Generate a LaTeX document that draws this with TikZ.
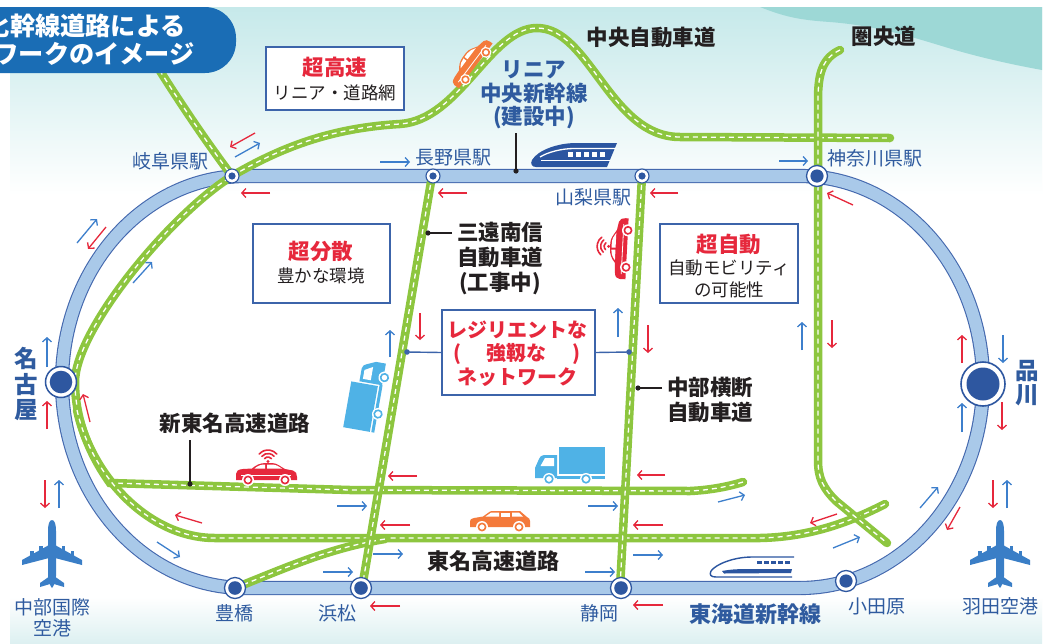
\documentclass[tikz,border=0pt]{standalone}
\usepackage{fontspec}
\setmainfont{Noto Sans CJK JP}
\usetikzlibrary{arrows.meta}

\definecolor{roadgreen}{HTML}{8DC63F}
\definecolor{railfill}{HTML}{A9C9E9}
\definecolor{railedge}{HTML}{4468AE}
\definecolor{stnblue}{HTML}{2E57A0}
\definecolor{lblblue}{HTML}{2F5B9F}
\definecolor{arrblue}{HTML}{3D7FCC}
\definecolor{arrred}{HTML}{E6283C}
\definecolor{inkdark}{HTML}{231F20}
\definecolor{titleblue}{HTML}{1A6DB5}
\definecolor{tealtop}{HTML}{C6E9EA}
\definecolor{tealwave}{HTML}{9DD8D6}
\definecolor{tealbottom}{HTML}{DDF0F1}
\definecolor{boxedge}{HTML}{3C64AA}
\definecolor{truckblue}{HTML}{4FB2E6}
\definecolor{planeblue}{HTML}{3A7EC6}
\definecolor{carorange}{HTML}{F47A3B}
\definecolor{trainblue}{HTML}{2B55A0}

% body of a side view sedan, nose to the right
\newcommand{\sedanshape}{%
  \fill (-30,6) -- (-30,0) .. controls (-30,-3) and (-28,-4.5) .. (-23,-5) -- (-14,-5.5)
    .. controls (-10,-9) and (-6,-11) .. (0,-11) -- (6,-11) .. controls (11,-11) and (15,-7) .. (19,-5)
    -- (27,-3.5) .. controls (30,-3) and (31,0) .. (31,3) -- (31,6) -- cycle;
  \fill[white] (-11.5,-5.5) .. controls (-8,-8.5) and (-5,-9.5) .. (-1,-9.5) -- (-1,-5.5) -- cycle;
  \fill[white] (1,-5.5) -- (1,-9.5) -- (6,-9.5) .. controls (10,-9.5) and (13,-7.5) .. (16,-5.5) -- cycle;
  \draw[white, line width=0.8pt] (-25,1.5) -- (25,1.5);
  \foreach \wx in {-18,19} {\fill[white] (\wx,6) circle (6); \draw[line width=1.6pt] (\wx,6) circle (3.6);}%
}

\tikzset{
  road/.style={draw=white, line width=1.3pt, dash pattern=on 5pt off 4pt,
    preaction={draw=roadgreen, solid, line width=8.5pt, line cap=round}},
  railband/.style={draw=railedge, line width=1.1pt, double=railfill, double distance=12pt},
  flow/.style={line width=1.3pt, -{Straight Barb[length=4pt,width=9pt]}},
  bflow/.style={flow, draw=arrblue},
  rflow/.style={flow, draw=arrred},
  stnS/.style={circle, draw=stnblue, fill=white, inner sep=0pt, line width=1.1pt, minimum size=14pt},
  stnM/.style={circle, draw=stnblue, fill=white, inner sep=0pt, line width=1.3pt, minimum size=21pt},
  stnL/.style={circle, draw=stnblue, fill=white, inner sep=0pt, line width=1.5pt, minimum size=31pt},
  stnXL/.style={circle, draw=stnblue, fill=white, inner sep=0pt, line width=1.6pt, minimum size=44pt},
  stnlbl/.style={font=\fontsize{19}{22}\selectfont, text=lblblue, inner sep=0pt},
  roadlbl/.style={font=\fontsize{21.5}{25}\selectfont\bfseries, text=inkdark, inner sep=0pt, align=center},
  keyword/.style={font=\fontsize{21.5}{25}\selectfont\bfseries, text=arrred, inner sep=0pt},
  boxnote/.style={font=\fontsize{17.5}{21}\selectfont, text=inkdark, inner sep=0pt},
  infobox/.style={draw=boxedge, line width=1.3pt, fill=white, inner sep=0pt},
  leader/.style={draw=inkdark, line width=1.2pt},
  bleader/.style={draw=boxedge, line width=1.4pt},
  titletxt/.style={font=\fontsize{25.2}{28}\selectfont\bfseries, text=white, inner sep=0pt},
  sedan/.pic={\sedanshape},
  signalcar/.pic={
    \sedanshape
    \fill (2,-12.5) circle (1.6);
    \foreach \r in {4.5,8,11.5}
      \draw[line width=1.6pt, line cap=round] (2,-12.5) ++(220:\r) arc[start angle=220, end angle=320, radius=\r];
  },
  % side view SUV, nose to the left
  suv/.pic={
    \fill (-30,5) -- (-30,-0.5) .. controls (-30,-2.5) and (-29,-3.5) .. (-26,-4) -- (-17,-5.5) -- (-10,-10.5)
      .. controls (-9,-11) .. (-8,-11) -- (20,-11) -- (27,-5) .. controls (29,-4) and (30,-3) .. (30,-1) -- (30,5) -- cycle;
    \fill[white] (-14.5,-5.5) -- (-9,-9.3) -- (-1,-9.3) -- (-1,-5.5) -- cycle;
    \fill[white] (1,-5.5) -- (1,-9.3) -- (10,-9.3) -- (10,-5.5) -- cycle;
    \fill[white] (12,-5.5) -- (12,-9.3) -- (19,-9.3) -- (23,-5.5) -- cycle;
    \foreach \wx in {-18,19} {\fill[white] (\wx,5) circle (6); \draw[line width=1.6pt] (\wx,5) circle (3.6);}
  },
  % side view lorry, cab to the left
  truck/.pic={
    \fill (-11.5,-19) rectangle (35,8);
    \fill (-13,-11) -- (-26,-11) .. controls (-29,-11) and (-30,-9) .. (-31,-7) -- (-35,2) -- (-35,12) -- (-13,12) -- cycle;
    \fill[white] (-16,-8) -- (-25,-8) -- (-29.5,0) -- (-16,0) -- cycle;
    \fill (-13,9.5) rectangle (35,12.5);
    \foreach \wx in {-21,16} {\fill[white] (\wx,13) circle (6); \draw[line width=1.6pt] (\wx,13) circle (3.8);}
  },
  % airliner seen from above, nose up
  plane/.pic={
    \fill (0,-34) .. controls (2.8,-34) and (4,-29) .. (4,-23) -- (4,22) .. controls (4,28) and (1.5,32) .. (0,34)
      .. controls (-1.5,32) and (-4,28) .. (-4,22) -- (-4,-23) .. controls (-4,-29) and (-2.8,-34) .. (0,-34) -- cycle;
    \foreach \s in {1,-1} {
      \begin{scope}[xscale=\s]
        \fill (3,-9) -- (30,6) -- (30,11) -- (3,4) -- cycle;
        \fill (9.5,-8) rectangle (13,-1);
        \fill (18.5,-3.5) rectangle (22,3);
        \fill (2,22) -- (12,29) -- (12,33) -- (2,30) -- cycle;
      \end{scope}
    }
  },
  % maglev train, solid
  trainA/.pic={
    \fill (43,-12) -- (2,-12) .. controls (-16,-12) and (-36,-5) .. (-42,5) .. controls (-44,9) and (-42,12) .. (-38,12) -- (33,12) -- cycle;
    \draw[white, line width=1.3pt] (42,-6.5) -- (0,-6.5) .. controls (-12,-6.5) and (-26,-3) .. (-34,2);
    \draw[white, line width=1.3pt] (36,5.5) -- (-33,5.5);
    \foreach \i in {0,...,4} \fill[white] (-6+8*\i,-3) rectangle ++(5,5);
  },
  % bullet train, line style
  trainB/.pic={
    \draw[line width=1.4pt, line join=round] (42,-10) -- (0,-10) .. controls (-18,-10) and (-36,-3) .. (-41,4)
      .. controls (-43,8) and (-41,10) .. (-36,10) -- (40,10);
    \fill (-30,4) .. controls (-20,2) and (-10,2) .. (0,2) -- (40,2) -- (39,6) -- (-28,6.5) -- cycle;
    \foreach \i in {0,...,4} \fill (5+7*\i,-6.5) rectangle ++(4.5,3.5);
  },
}

\begin{document}
\begin{tikzpicture}[x=1pt,y=-1pt]
\useasboundingbox (0,0) rectangle (1046,643);

% backdrop
\fill[white] (0,0) rectangle (1046,643);
\shade[top color=tealtop, bottom color=white] (10,7) rectangle (1042,195);
\fill[tealwave] (760,7) .. controls (785,17) and (800,20) .. (830,22) .. controls (880,26) and (915,38) .. (955,50)
  .. controls (990,60) and (1020,66) .. (1042,70) -- (1042,7) -- cycle;
\shade[top color=white, bottom color=tealbottom] (10,597) rectangle (1042,643);

% rail loop: Linear Chuo on top, Tokaido Shinkansen below
\draw[railband] (245,176) -- (800,176) arc[start angle=-90, end angle=90, x radius=183, y radius=206]
  -- (245,588) arc[start angle=90, end angle=270, x radius=183, y radius=206] -- cycle;

% expressways
\draw[road] (150,55) .. controls (178,100) and (205,140) .. (232,176);
\draw[road] (743,482) .. controls (730,486) and (712,490) .. (690,491) -- (350,490) -- (110,483)
  .. controls (90,455) and (75,420) .. (75,382) .. controls (75,330) and (170,215) .. (232,176)
  .. controls (280,148) and (330,128) .. (400,124) .. controls (460,120) and (490,28) .. (537,28)
  .. controls (590,28) and (610,137) .. (680,137) -- (890,138);
\draw[road] (77,410) .. controls (92,478) and (150,538) .. (215,538) -- (760,538)
  .. controls (810,537) and (850,522) .. (885,504);
\draw[road] (235,588) .. controls (290,566) and (330,548) .. (385,539);
\draw[road] (432,176) -- (362,588);
\draw[road] (642,176) -- (620,588);
\draw[road] (840,50) .. controls (823,58) and (818,72) .. (818,100) -- (818,460)
  .. controls (818,478) and (823,488) .. (836,501) -- (887,543);

% heading
\fill[titleblue, rounded corners=31pt] (-40,7) rectangle (236,73);
\begin{scope}
  \clip (0,0) rectangle (236,73);
  \node[titletxt, anchor=east] (titleA) at (186,26) {化幹線道路による};
  \node[titletxt, anchor=east] (titleB) at (195,54) {ネットワークのイメージ};
\end{scope}

% concept boxes
\node[infobox, minimum width=138pt, minimum height=63pt] (boxSpeed) at (335,78.5) {};
\node[keyword] (kwSpeed) at (335,67.5) {超高速};
\node[boxnote] (noteSpeed) at (335,92.5) {リニア・道路網};

\node[infobox, minimum width=137pt, minimum height=79pt] (boxSpread) at (321.5,263.5) {};
\node[keyword] (kwSpread) at (321,251) {超分散};
\node[boxnote] (noteSpread) at (321,276) {豊かな環境};

\node[infobox, minimum width=138pt, minimum height=79pt] (boxAuto) at (729,263.5) {};
\node[keyword] (kwAuto) at (729,244) {超自動};
\node[boxnote] (noteAutoA) at (729,267.5) {自動モビリティ};
\node[boxnote] (noteAutoB) at (729,289.5) {の可能性};

\node[infobox, minimum width=153pt, minimum height=85pt] (boxResil) at (518.5,352.5) {};
\node[font=\fontsize{20}{23.5}\selectfont\bfseries, text=arrred, inner sep=0pt, align=center] (kwResil) at (517,353.5)
  {レジリエントな\\(\hspace{1.3em}強靱な\hspace{1.3em})\\ネットワーク};
\coordinate (resilL) at (407,352);
\coordinate (resilR) at (629,352);
\draw[bleader] (boxResil.west) -- (resilL);
\draw[bleader] (boxResil.east) -- (resilR);
\fill[boxedge] (resilL) circle (2.8);
\fill[boxedge] (resilR) circle (2.8);

% stations
\node[stnS] (gifu) at (232,176) {};
\node[stnS] (nagano) at (433,176) {};
\node[stnS] (yamanashi) at (642,176) {};
\node[stnM] (kanagawa) at (817,176) {};
\node[stnL] (nagoya) at (61,382) {};
\node[stnXL] (shinagawa) at (983,384) {};
\node[stnM] (toyohashi) at (235,588) {};
\node[stnM] (hamamatsu) at (361,588) {};
\node[stnM] (shizuoka) at (621,588) {};
\node[stnM] (odawara) at (846,581) {};
\foreach \n/\r in {gifu/3.6, nagano/3.6, yamanashi/3.6, kanagawa/6.6, nagoya/11.3, shinagawa/16.5,
                   toyohashi/6.8, hamamatsu/6.8, shizuoka/6.8, odawara/6.6}
  \fill[stnblue] (\n) circle (\r);

% station names
\node[stnlbl] (gifuLbl) at (170,161) {岐阜県駅};
\node[stnlbl] (naganoLbl) at (453,158) {長野県駅};
\node[stnlbl] (yamanashiLbl) at (593,197) {山梨県駅};
\node[stnlbl] (kanagawaLbl) at (875,158) {神奈川県駅};
\node[stnlbl] (toyohashiLbl) at (234,613) {豊橋};
\node[stnlbl] (hamamatsuLbl) at (337,613) {浜松};
\node[stnlbl] (shizuokaLbl) at (599,613) {静岡};
\node[stnlbl] (odawaraLbl) at (877,606) {小田原};
\node[stnlbl] (hanedaLbl) at (1000,606) {羽田空港};
\node[stnlbl, align=center, font=\fontsize{19}{21}\selectfont] (chubuLbl) at (52,618) {中部国際\\空港};
\node[font=\fontsize{23.5}{25.5}\selectfont\bfseries, text=lblblue, inner sep=0pt, align=center] (nagoyaLbl) at (26,384) {名\\古\\屋};
\node[font=\fontsize{23.5}{24}\selectfont\bfseries, text=lblblue, inner sep=0pt, align=center] (shinagawaLbl) at (1027,383) {品\\川};
\node[font=\fontsize{22}{25}\selectfont\bfseries, text=lblblue, inner sep=0pt] (tokaidoLbl) at (755,614) {東海道新幹線};

% line and road names
\node[font=\fontsize{21.5}{23.3}\selectfont\bfseries, text=lblblue, inner sep=0pt, align=center] (linearLbl) at (534,95)
  {リニア\\中央新幹線\\(建設中)};
\coordinate (linTop) at (516,133);
\coordinate (linFoot) at (516,171);
\draw[leader] (linTop) -- (linFoot);
\fill[inkdark] (linFoot) circle (2.6);

\node[roadlbl] (chuoLbl) at (651,37) {中央自動車道};
\node[roadlbl] (kenoLbl) at (884,36) {圏央道};

\node[roadlbl] (sanenLbl) at (500,259) {三遠南信\\自動車道\\(工事中)};
\coordinate (sanenTail) at (452,233);
\coordinate (sanenDot) at (428,233);
\draw[leader] (sanenTail) -- (sanenDot);
\fill[inkdark] (sanenDot) circle (2.6);

\node[roadlbl] (chubuRdLbl) at (710,400) {中部横断\\自動車道};
\coordinate (chubuTail) at (662,388);
\coordinate (chubuDot) at (638,388);
\draw[leader] (chubuTail) -- (chubuDot);
\fill[inkdark] (chubuDot) circle (2.6);

\node[roadlbl] (shintomeiLbl) at (235,423) {新東名高速道路};
\coordinate (stmTail) at (190,440);
\coordinate (stmDot) at (190,484);
\draw[leader] (stmTail) -- (stmDot);
\fill[inkdark] (stmDot) circle (2.6);

\node[roadlbl, font=\fontsize{22}{25}\selectfont\bfseries] (tomeiLbl) at (493,561) {東名高速道路};

% traffic flows
\draw[rflow] (255,133) -- (230,147);
\draw[bflow] (235,157) -- (260,143);
\draw[rflow] (270,193) -- (241,193);
\draw[bflow] (380,162) -- (410,162);
\draw[rflow] (467,193) -- (438,193);
\draw[rflow] (678,193) -- (650,193);
\draw[bflow] (779,161) -- (808,161);
\draw[rflow] (853,205) -- (827,193);
\draw[bflow] (77,243) -- (97,219);
\draw[rflow] (106,227) -- (88,249);
\draw[bflow] (133,283) -- (152,262);
\draw[bflow] (47,367) -- (47,337);
\draw[rflow] (47,429) -- (47,401);
\draw[rflow] (90,422) -- (83,394);
\draw[rflow] (45,480) -- (45,508);
\draw[bflow] (59,508) -- (59,480);
\draw[rflow] (202,523) -- (175,515);
\draw[bflow] (157,542) -- (180,557);
\draw[bflow] (323,572) -- (353,572);
\draw[rflow] (417,476) -- (388,476);
\draw[bflow] (337,506) -- (367,506);
\draw[rflow] (410,525) -- (380,525);
\draw[bflow] (373,554) -- (403,554);
\draw[rflow] (400,606) -- (370,606);
\draw[bflow] (588,506) -- (618,506);
\draw[rflow] (665,475) -- (637,475);
\draw[rflow] (663,525) -- (633,525);
\draw[bflow] (633,555) -- (663,555);
\draw[bflow] (585,572) -- (615,572);
\draw[rflow] (663,605) -- (633,605);
\draw[bflow] (718,502) -- (745,495);
\draw[rflow] (837,514) -- (810,523);
\draw[bflow] (833,548) -- (860,537);
\draw[bflow] (920,508) -- (938,487);
\draw[rflow] (960,507) -- (947,530);
\draw[rflow] (993,480) -- (993,508);
\draw[bflow] (1007,508) -- (1007,480);
\draw[bflow] (802,350) -- (802,322);
\draw[rflow] (832,320) -- (832,348);
\draw[rflow] (962,363) -- (962,335);
\draw[bflow] (1003,335) -- (1003,363);
\draw[bflow] (962,432) -- (962,403);
\draw[rflow] (1002,402) -- (1002,430);
\draw[rflow] (420,313) -- (420,340);
\draw[bflow] (390,357) -- (390,330);
\draw[bflow] (618,337) -- (618,308);
\draw[rflow] (648,325) -- (648,353);

% vehicles
\pic[color=carorange, scale=0.92, rotate=53] at (471,63) {sedan};
\pic[color=arrred, rotate=87] at (621,249) {signalcar};
\pic[color=arrred] at (266,474) {signalcar};
\pic[color=truckblue, rotate=80, xscale=-1] at (368,396) {truck};
\pic[color=truckblue] at (570,466) {truck};
\pic[color=carorange] at (500,522) {suv};
\pic[color=planeblue] at (52,554) {plane};
\pic[color=planeblue] at (1000,554) {plane};
\pic[color=trainblue] at (574,155) {trainA};
\pic[color=trainblue] at (752,567) {trainB};
\end{tikzpicture}
\end{document}
